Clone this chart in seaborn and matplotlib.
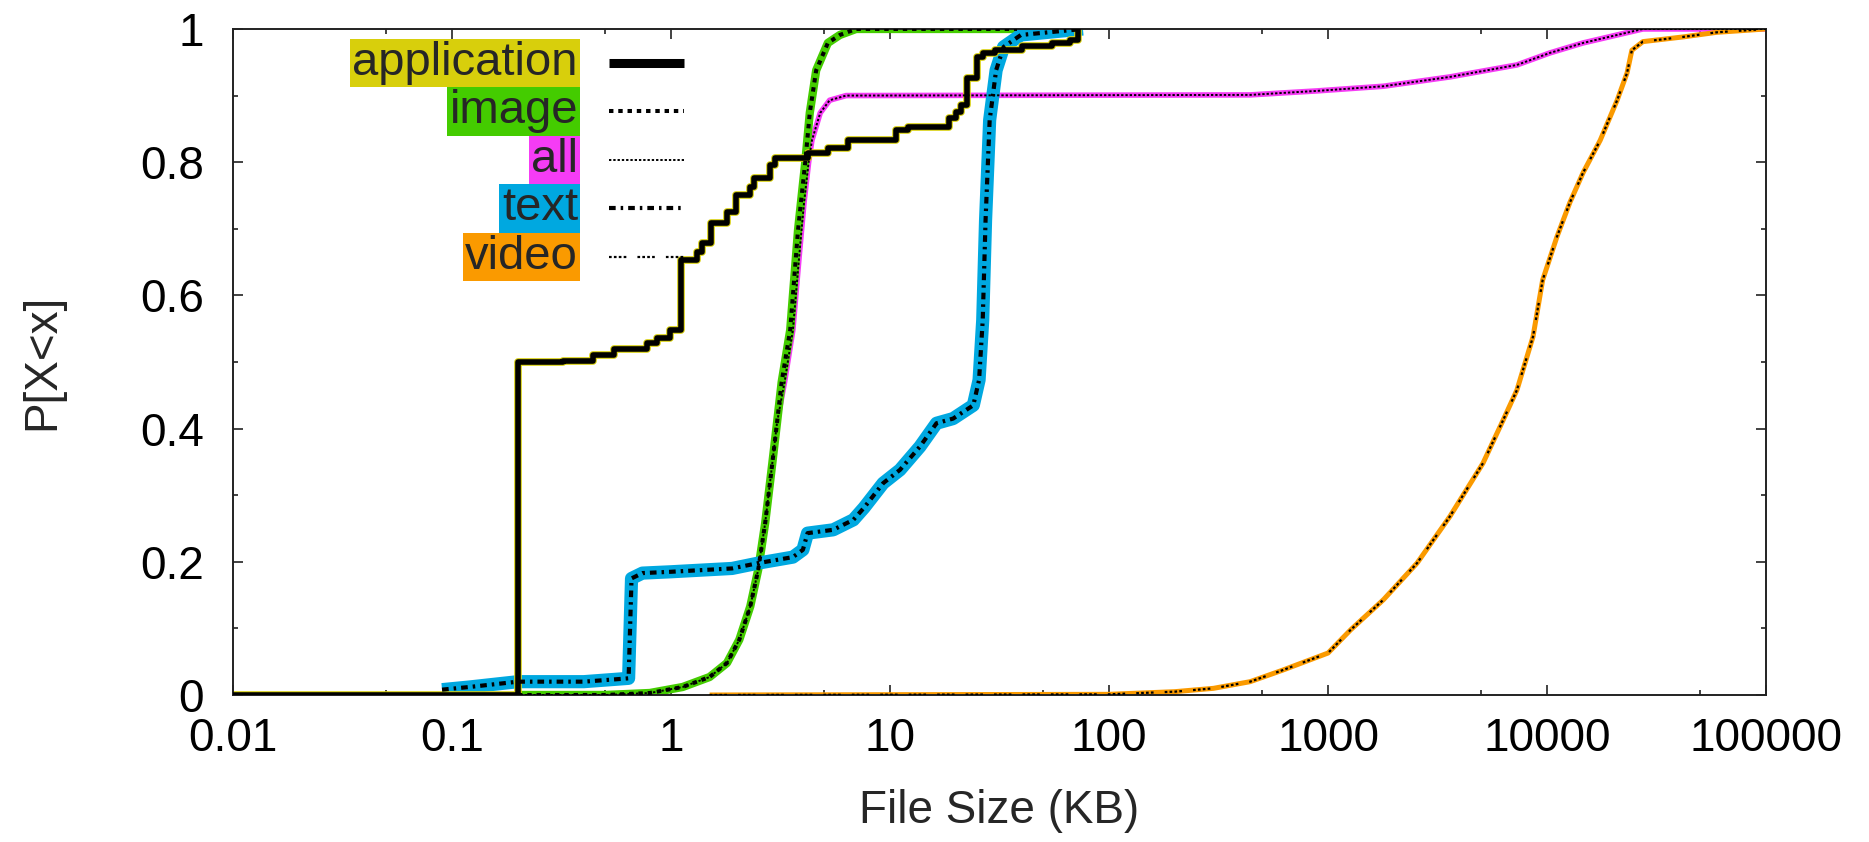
import numpy as np
import pandas as pd
import matplotlib
matplotlib.use("Agg")
import matplotlib.pyplot as plt
from matplotlib.ticker import FixedLocator, NullFormatter
import seaborn as sns

# CDF of file sizes (KB) per content type
app_x = [0.01, 0.2, 0.32, 0.44, 0.55, 0.78, 0.86, 0.99, 1.11, 1.31, 1.39, 1.53, 1.8, 1.97,
         2.3, 2.4, 2.84, 2.98, 4.2, 5.2, 6.4, 10.6, 12.1, 18.5, 20, 21, 22.5, 25, 26.7,
         30, 40, 55, 66, 72]
app_y = [0, 0.5, 0.502, 0.51, 0.52, 0.528, 0.536, 0.548, 0.653, 0.665, 0.678, 0.709, 0.725, 0.751,
         0.763, 0.776, 0.796, 0.806, 0.814, 0.821, 0.833, 0.848, 0.853, 0.866, 0.876, 0.886, 0.926, 0.958, 0.964,
         0.968, 0.974, 0.979, 0.983, 1.0]

image_x = [0.2, 0.5, 0.8, 1.13, 1.5, 1.8, 2.05, 2.3, 2.5, 2.69, 2.9, 3.05, 3.2, 3.5, 3.8,
           4.1, 4.3, 4.6, 5.2, 5.9, 7.0, 38]
image_y = [0, 0.0, 0.003, 0.012, 0.027, 0.048, 0.083, 0.133, 0.188, 0.258, 0.348, 0.41, 0.47, 0.548, 0.698,
           0.8, 0.874, 0.938, 0.979, 0.991, 1.0, 1.0]

all_x = [0.1, 0.5, 0.8, 1.13, 1.5, 1.8, 2.05, 2.3, 2.5, 2.69, 2.9, 3.05, 3.3, 3.6, 3.85,
         4.05, 4.25, 4.4, 4.8, 5.3, 6.3, 441, 623, 890, 1790, 3600, 7290, 10300, 14600,
         20900, 27400, 100000]
all_y = [0, 0.0, 0.003, 0.012, 0.027, 0.048, 0.083, 0.133, 0.188, 0.258, 0.348, 0.41, 0.47, 0.548, 0.66,
         0.74, 0.8, 0.833, 0.874, 0.893, 0.9, 0.901, 0.904, 0.907, 0.914, 0.928, 0.946, 0.964, 0.979,
         0.991, 1.0, 1.0]

text_x = [0.09, 0.12, 0.2, 0.4, 0.64, 0.66, 0.74, 1.0, 1.9, 2.5, 3.6, 4.0, 4.2, 5.5, 6.8,
          7.6, 9.3, 11.1, 13.7, 16.3, 19.4, 24, 25.5, 26.5, 27.3, 28.5, 30.5, 33, 39.6, 76]
text_y = [0.008, 0.012, 0.02, 0.02, 0.025, 0.175, 0.183, 0.185, 0.19, 0.198, 0.207, 0.218, 0.243, 0.248, 0.263,
          0.281, 0.318, 0.338, 0.373, 0.408, 0.415, 0.435, 0.473, 0.563, 0.713, 0.863, 0.938, 0.973, 0.991, 1.0]

video_x = [1.5, 100, 200, 300, 441, 623, 1000, 1270, 1790, 2550, 3600, 5100, 6310, 7290, 8630,
           9550, 11100, 12700, 14600, 17500, 20900, 23200, 24400, 27400, 41700, 59700, 100000]
video_y = [0, 0.001, 0.005, 0.01, 0.02, 0.0375, 0.063, 0.098, 0.143, 0.198, 0.268, 0.348, 0.413, 0.458, 0.538,
           0.623, 0.688, 0.739, 0.784, 0.833, 0.893, 0.934, 0.968, 0.981, 0.988, 0.995, 1.0]

labels = ["application", "image", "all", "text", "video"]
colors = ["#d8cf0c", "#44cc00", "#f53cf5", "#00a8e0", "#fa9a00"]

x_ticks = [0.01, 0.1, 1, 10, 100, 1000, 10000, 100000]
x_ticklabels = ["0.01", "0.1", "1", "10", "100", "1000", "10000", "100000"]
y_ticks = [0, 0.2, 0.4, 0.6, 0.8, 1.0]
y_ticklabels = ["0", "0.2", "0.4", "0.6", "0.8", "1"]

sns.set_style("ticks")
plt.rcParams["font.family"] = ["Liberation Sans", "DejaVu Sans"]

fig = plt.figure(figsize=(18.69, 8.42), dpi=100)
ax = fig.add_axes([0.1247, 0.1746, 0.8202, 0.791])

series = {
    "all": (all_x, all_y),
    "image": (image_x, image_y),
    "video": (video_x, video_y),
    "text": (text_x, text_y),
    "application": (app_x, app_y),
}
# colour underlay width, black line width, black dash pattern
styles = {
    "application": (5.5, 4.0, "-"),
    "image": (6.0, 2.9, (0, (1.1, 1.2))),
    "all": (4.0, 1.4, (0, (1.2, 1.0))),
    "text": (9.5, 3.0, (0, (1.6, 1.2, 0.6, 1.2))),
    "video": (3.6, 1.6, (0, (1.2, 1, 1.2, 1, 1.2, 1, 1.2, 5))),
}
draw = {"application": "steps-post"}

for name, (xs, ys) in series.items():
    df = pd.DataFrame({"size": xs, "p": ys})
    cw, bw, ls = styles[name]
    ds = draw.get(name, "default")
    sns.lineplot(data=df, x="size", y="p", ax=ax, sort=False, estimator=None,
                 color=colors[labels.index(name)], lw=cw, drawstyle=ds,
                 solid_capstyle="butt", zorder=2)
for name, (xs, ys) in series.items():
    df = pd.DataFrame({"size": xs, "p": ys})
    cw, bw, ls = styles[name]
    ds = draw.get(name, "default")
    sns.lineplot(data=df, x="size", y="p", ax=ax, sort=False, estimator=None,
                 color="black", lw=bw, ls=ls, drawstyle=ds, zorder=3)

ax.set_xscale("log")
ax.set_xlim(0.01, 100000)
ax.set_ylim(0, 1)

ax.xaxis.set_major_locator(FixedLocator(x_ticks))
ax.set_xticklabels(x_ticklabels)
ax.xaxis.set_minor_locator(FixedLocator([5 * t for t in x_ticks[:-1]]))
ax.xaxis.set_minor_formatter(NullFormatter())
ax.yaxis.set_major_locator(FixedLocator(y_ticks))
ax.set_yticklabels(y_ticklabels)
ax.yaxis.set_minor_locator(FixedLocator([0.1, 0.3, 0.5, 0.7, 0.9]))

ax.tick_params(which="both", direction="in", top=True, right=True, width=1.2, color="#222222")
ax.tick_params(which="major", length=7.5, labelsize=33, labelcolor="black")
ax.tick_params(which="minor", length=3.5)
ax.tick_params(axis="x", which="major", pad=16)
ax.tick_params(axis="y", which="major", pad=21)
for s in ax.spines.values():
    s.set_linewidth(1.4)
    s.set_color("#222222")

ax.set_xlabel("File Size (KB)", fontsize=33)
ax.set_ylabel("P[X<x]", fontsize=33)
ax.xaxis.set_label_coords(0.5, -0.141)
ax.yaxis.set_label_coords(-0.110, 0.5)

# legend: coloured label boxes with black line samples
for i, (lab, col) in enumerate(zip(labels, colors)):
    y = 0.949 - i * 0.0728
    ax.text(0.225, y, lab, transform=ax.transAxes, ha="right", va="center",
            fontsize=34, zorder=10 - i,
            bbox=dict(boxstyle="square,pad=0.05", fc=col, ec="none"))
    cw, bw, ls = styles[lab]
    lw = 6.5 if lab == "application" else bw
    ax.plot([0.245, 0.294], [y, y], transform=ax.transAxes, color="black",
            lw=lw, ls=ls, solid_capstyle="butt", zorder=10)

if ax.get_legend() is not None:
    ax.get_legend().remove()

fig.savefig("out.png", dpi=100)
